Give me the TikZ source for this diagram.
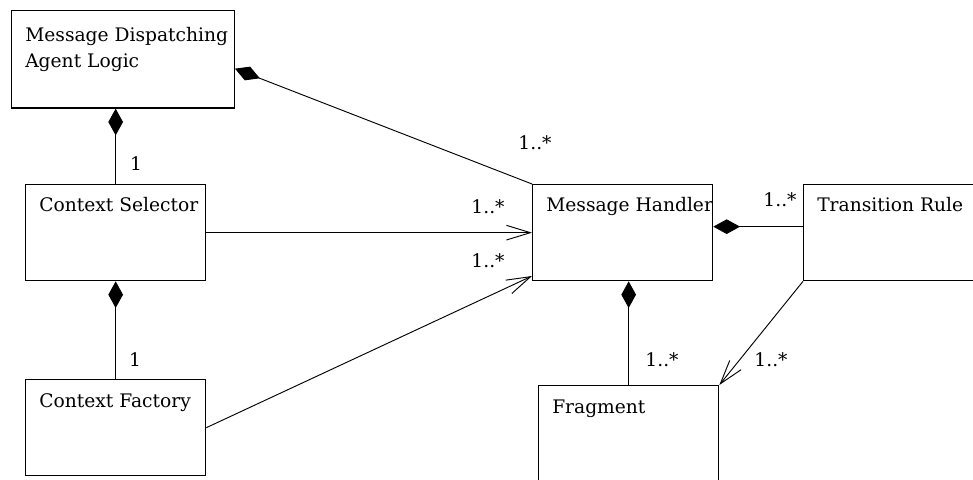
\documentclass[tikz,border=0pt]{standalone}
\usepackage{fontspec}
\setmainfont{DejaVu Serif}
\usepackage{tikz}
\usetikzlibrary{arrows.meta}

\begin{document}
\begin{tikzpicture}[x=0.75pt,y=0.75pt,font=\fontsize{14}{19.5}\selectfont]
	
	\useasboundingbox (0,0) rectangle (973,479);
	
	\tikzstyle{klass}=[draw,line width=1pt,anchor=north west,inner sep=0pt,minimum width=135pt,minimum height=72pt]
	\tikzstyle{title}=[anchor=north west,inner sep=0pt,align=left]
	\tikzstyle{mult}=[inner sep=0pt]
	\tikzstyle{comp}=[line width=0.7pt,{Diamond[length=20pt,width=11pt]}-]
	\tikzstyle{nav}=[line width=0.7pt,-{Straight Barb[length=18pt,width=11pt]}]
	
	%Classes
	\node[klass,minimum width=167pt,minimum height=73pt] (mdal) at (11,469) {};
	\foreach \n/\x/\y in {cs/25/295, cf/25/100, mh/532/295, tr/803/295}
	\node[klass] (\n) at (\x,\y) {};
	\node[klass,minimum height=90pt] (frag) at (538,94) {};
	
	%Class names
	\foreach \n/\drop/\txt in {mdal/12.5/{Message Dispatching\\Agent Logic}, cs/9.5/Context Selector, cf/10.5/Context Factory, mh/9.5/Message Handler, tr/9.5/Transition Rule, frag/11/Fragment}
	\node[title] (\n-name) at ([xshift=10.5pt,yshift=-\drop pt]\n.north west) {\txt};
	
	%Links
	\draw[comp] (cs.north |- mdal.south) -- (cs.north);
	\draw[comp] (cs.south) -- (cf.north);
	\draw[comp] ([yshift=-7pt]mdal.east) -- (mh.north west);
	\draw[comp] ([yshift=4.5pt]mh.east) -- ([yshift=4.5pt]tr.west);
	\draw[comp] (frag.north |- mh.south) -- (frag.north);
	\draw[nav] (cs.east) -- (mh.west);
	\draw[nav] (cf.east) -- ([yshift=4pt]mh.south west);
	\draw[nav] (tr.south west) -- (frag.north east);
	
	%Multiplicities
	\foreach \n/\x/\y/\txt in {m1/136/315/1, m2/135/119/1, m3/535/336/1..*, m4/488/272/1..*, m5/488/218/1..*, m6/780/279/1..*, m7/662/119/1..*, m8/771/119/1..*}
	\node[mult] (\n) at (\x,\y) {\txt};
	
\end{tikzpicture}
\end{document}
